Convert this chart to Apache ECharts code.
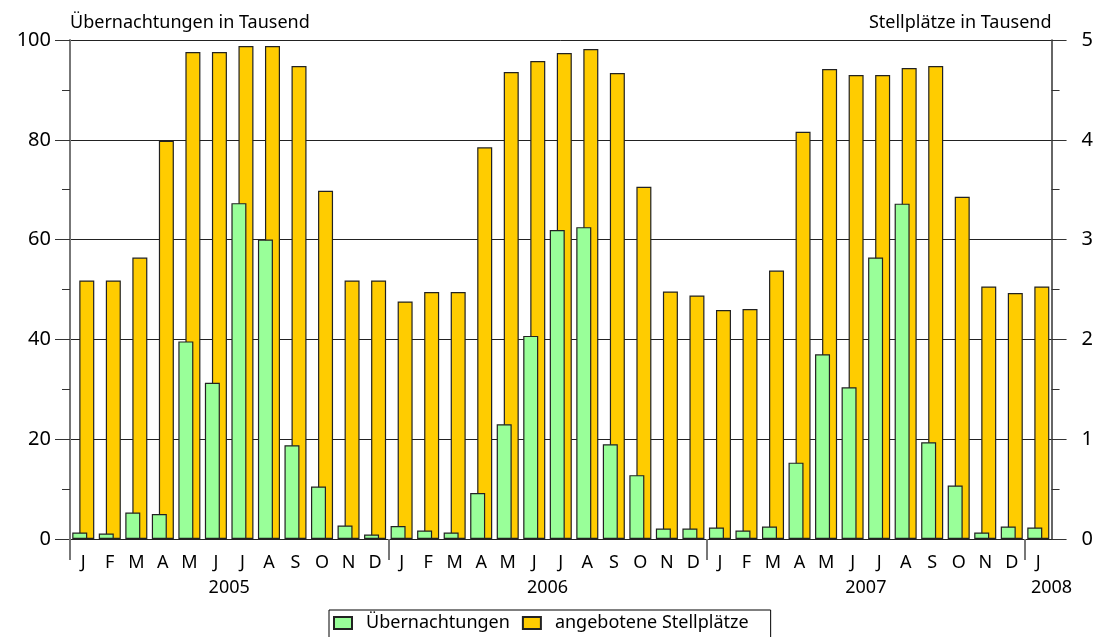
<!DOCTYPE html>
<html>
<head>
<meta charset="utf-8">
<script src="https://cdn.jsdelivr.net/npm/echarts@6/dist/echarts.min.js"></script>
<style>
  html, body { margin: 0; padding: 0; background: #fff; }
  #main { width: 1096px; height: 637px; }
</style>
</head>
<body>
<div id="main"></div>
<script>
// Monate Jan 2005 bis Jan 2008
var months = ['J','F','M','A','M','J','J','A','S','O','N','D',
              'J','F','M','A','M','J','J','A','S','O','N','D',
              'J','F','M','A','M','J','J','A','S','O','N','D',
              'J'];
var years = ['2005', '2006', '2007', '2008'];
var monthsPerYear = [12, 12, 12, 1];

// Übernachtungen in Tausend (linke Achse)
var uebernachtungen = [1.3, 1.1, 5.3, 5.0, 39.6, 31.3, 67.3, 60.0, 18.8, 10.5, 2.7, 0.9,
                       2.6, 1.7, 1.3, 9.2, 23.0, 40.7, 61.9, 62.5, 19.0, 12.8, 2.1, 2.1,
                       2.3, 1.7, 2.5, 15.3, 37.0, 30.4, 56.4, 67.2, 19.4, 10.7, 1.3, 2.5,
                       2.3];
// angebotene Stellplätze in Tausend (rechte Achse)
var stellplaetze = [2.59, 2.59, 2.82, 3.99, 4.88, 4.88, 4.94, 4.94, 4.74, 3.49, 2.59, 2.59,
                    2.38, 2.475, 2.475, 3.925, 4.68, 4.79, 4.87, 4.91, 4.67, 3.53, 2.48, 2.44,
                    2.295, 2.305, 2.69, 4.08, 4.71, 4.65, 4.65, 4.72, 4.74, 3.43, 2.53, 2.465,
                    2.53];

var leftTicks = [0, 20, 40, 60, 80, 100];
var rightTicks = [0, 1, 2, 3, 4, 5];

// Jahresgrenzen und Beschriftungspositionen aus den Monatszahlen
var yearStarts = [], yearLabelPos = {};
var acc = 0;
years.forEach(function (y, i) {
    yearStarts.push(acc);
    var pos = monthsPerYear[i] >= 12 ? acc + monthsPerYear[i] / 2 : acc + monthsPerYear[i];
    yearLabelPos[pos] = y;
    acc += monthsPerYear[i];
});

var font = 'Noto Sans';
var myChart = echarts.init(document.getElementById('main'));
var option = {
    animation: false,
    textStyle: { fontFamily: font, color: '#000' },
    grid: { left: 70, right: 44, top: 40, bottom: 98 },
    legend: {
        data: ['Übernachtungen', 'angebotene Stellplätze'],
        left: 329,
        top: 610,
        icon: 'rect',
        itemWidth: 18,
        itemHeight: 12,
        itemGap: 12,
        padding: [4, 22, 6, 4],
        borderColor: '#000',
        borderWidth: 1,
        textStyle: { fontSize: 18, color: '#000', fontFamily: font, padding: [0, 0, 0, 9] }
    },
    xAxis: [{
        type: 'category',
        data: months,
        axisLine: { lineStyle: { color: '#222', width: 1 } },
        axisTick: { show: false },
        axisLabel: { interval: 0, margin: 15, fontSize: 18, color: '#000' }
    }, {
        type: 'value',
        min: 0,
        max: months.length,
        position: 'bottom',
        offset: 38,
        axisLine: { show: false },
        splitLine: { show: false },
        axisTick: {
            show: true, length: 21, customValues: yearStarts,
            lineStyle: { color: '#777', width: 2 }
        },
        axisLabel: {
            customValues: Object.keys(yearLabelPos).map(Number),
            margin: 2, fontSize: 18, color: '#000',
            formatter: function (v) { return yearLabelPos[v] || ''; }
        }
    }],
    yAxis: [{
        type: 'value',
        min: 0, max: 100, interval: 20,
        name: 'Übernachtungen in Tausend',
        nameLocation: 'end',
        nameGap: 8,
        nameTextStyle: { align: 'left', fontSize: 18, color: '#000' },
        axisLine: { show: true, lineStyle: { color: '#777', width: 2 } },
        axisTick: { show: true, length: 15, lineStyle: { color: '#333' } },
        minorTick: { show: true, splitNumber: 2, length: 8, lineStyle: { color: '#333' } },
        splitLine: { show: true, lineStyle: { color: '#222', width: 1 } },
        axisLabel: {
            margin: 19, fontSize: 20, color: '#000',
            formatter: function (v) { return leftTicks.indexOf(v) >= 0 ? String(v) : ''; }
        }
    }, {
        type: 'value',
        min: 0, max: 5, interval: 1,
        name: 'Stellplätze in Tausend',
        nameLocation: 'end',
        nameGap: 8,
        nameTextStyle: { align: 'right', fontSize: 18, color: '#000' },
        axisLine: { show: true, lineStyle: { color: '#333', width: 1.5 } },
        axisTick: { show: true, length: 15, lineStyle: { color: '#333' } },
        minorTick: { show: true, splitNumber: 2, length: 8, lineStyle: { color: '#333' } },
        splitLine: { show: false },
        axisLabel: {
            margin: 30, fontSize: 20, color: '#000',
            formatter: function (v) { return rightTicks.indexOf(v) >= 0 ? String(v) : ''; }
        }
    }],
    series: [{
        name: 'Übernachtungen',
        type: 'bar',
        xAxisIndex: 0,
        yAxisIndex: 0,
        data: uebernachtungen,
        barWidth: 15,
        barGap: '-53%',
        z: 3,
        itemStyle: { color: '#99FF99', borderColor: '#222', borderWidth: 1.2 }
    }, {
        name: 'angebotene Stellplätze',
        type: 'bar',
        xAxisIndex: 0,
        yAxisIndex: 1,
        data: stellplaetze,
        barWidth: 15,
        barGap: '-53%',
        z: 2,
        itemStyle: { color: '#FFCC00', borderColor: '#222', borderWidth: 1.2 }
    }]
};
myChart.setOption(option);
</script>
</body>
</html>
